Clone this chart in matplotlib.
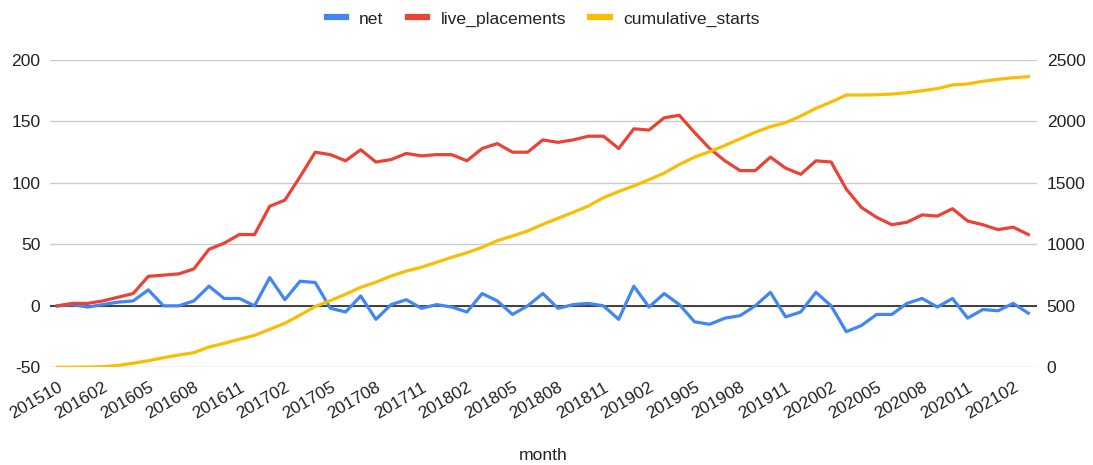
import matplotlib
matplotlib.use('Agg')
import matplotlib.pyplot as plt
import numpy as np
from matplotlib.transforms import ScaledTranslation
from matplotlib.lines import Line2D

net = [0, 1, -1, 1, 3, 4, 13, 0, 0, 4, 16, 6, 6, 0, 23, 5, 20, 19, -2, -5,
       8, -11, 1, 5, -2, 1, -1, -5, 10, 4, -7, 0, 10, -2, 1, 2, 0, -11, 16, -1,
       10, 1, -13, -15, -10, -8, 0, 11, -9, -5, 11, 0, -21, -16, -7, -7, 2, 6, -1, 6,
       -10, -3, -4, 2, -6]
live_placements = [0, 2, 2, 4, 7, 10, 24, 25, 26, 30, 46, 51, 58, 58, 81, 86, 105, 125, 123, 118,
                   127, 117, 119, 124, 122, 123, 123, 118, 128, 132, 125, 125, 135, 133, 135, 138, 138, 128, 144, 143,
                   153, 155, 141, 128, 118, 110, 110, 121, 112, 107, 118, 117, 95, 80, 72, 66, 68, 74, 73, 79,
                   69, 66, 62, 64, 58]
cumulative_starts = [0, 0, 2, 5, 15, 33, 54, 78, 100, 119, 165, 195, 228, 260, 309, 358, 425, 495, 543, 594,
                     651, 692, 743, 783, 814, 854, 895, 932, 976, 1030, 1068, 1109, 1163, 1212, 1261, 1312, 1380, 1430, 1476, 1526,
                     1580, 1650, 1710, 1754, 1805, 1859, 1912, 1958, 1990, 2044, 2107, 2158, 2215, 2215, 2217, 2223, 2234, 2250, 2267, 2297,
                     2305, 2327, 2343, 2356, 2364]
tick_labels = ['201510', '201602', '201605', '201608', '201611', '201702', '201705', '201708',
               '201711', '201802', '201805', '201808', '201811', '201902', '201905', '201908',
               '201911', '202002', '202005', '202008', '202011', '202102']
left_ticks = [-50, 0, 50, 100, 150, 200]
right_ticks = [0, 500, 1000, 1500, 2000, 2500]

BLUE = '#4285F4'
RED = '#EA4335'
YELLOW = '#FBBC04'
TXT = '#222222'
FS = 12.6

plt.rcParams['font.family'] = ['Liberation Sans', 'DejaVu Sans']
plt.rcParams['axes.unicode_minus'] = False

W, H = 1093, 465
fig = plt.figure(figsize=(W / 100, H / 100), dpi=100)
ax = fig.add_axes([50 / W, 1 - 367.3 / H, 987 / W, 307.3 / H])
ax2 = ax.twinx()

x = np.arange(len(net))
ax.set_xlim(-0.48, len(net) - 1 + 0.57)
ax.set_ylim(-50, 200)
ax2.set_ylim(0, 2500)

ax.set_yticks(left_ticks)
ax2.set_yticks(right_ticks)
ax.yaxis.grid(True, color='#cccccc', linewidth=1.0, zorder=0)
ax.set_axisbelow(True)
ax.axhline(0, color='#333333', linewidth=1.3, zorder=1)

ax.plot(x, net, color=BLUE, linewidth=2.3, zorder=3, solid_joinstyle='round')
ax.plot(x, live_placements, color=RED, linewidth=2.3, zorder=3, solid_joinstyle='round')
ax2.plot(x, cumulative_starts, color=YELLOW, linewidth=2.3, zorder=3, solid_joinstyle='round')

ax.set_xticks(x[::3][:len(tick_labels)])
ax.set_xticklabels(tick_labels, rotation=30, ha='right', va='top', rotation_mode='anchor')
off = ScaledTranslation(7 / 100, 0, fig.dpi_scale_trans)
for lab in ax.get_xticklabels():
    lab.set_transform(lab.get_transform() + off)

ax.tick_params(axis='both', length=0, labelsize=FS, labelcolor=TXT)
ax.tick_params(axis='y', pad=7)
ax.tick_params(axis='x', pad=9)
ax2.tick_params(axis='y', length=0, labelsize=FS, labelcolor=TXT, pad=7)

for a in (ax, ax2):
    for s in a.spines.values():
        s.set_visible(False)

fig.text(543 / W, 1 - 455 / H, 'month', ha='center', va='center', fontsize=FS, color=TXT)

handles = [Line2D([0], [0], color=c, linewidth=4.5) for c in (BLUE, RED, YELLOW)]
fig.legend(handles, ['net', 'live_placements', 'cumulative_starts'], loc='center',
           bbox_to_anchor=(543 / W, 1 - 19 / H), ncol=3, frameon=False, fontsize=FS,
           handlelength=1.1, handletextpad=0.75, columnspacing=1.4, labelcolor=TXT)

fig.savefig('out.png', dpi=100)
